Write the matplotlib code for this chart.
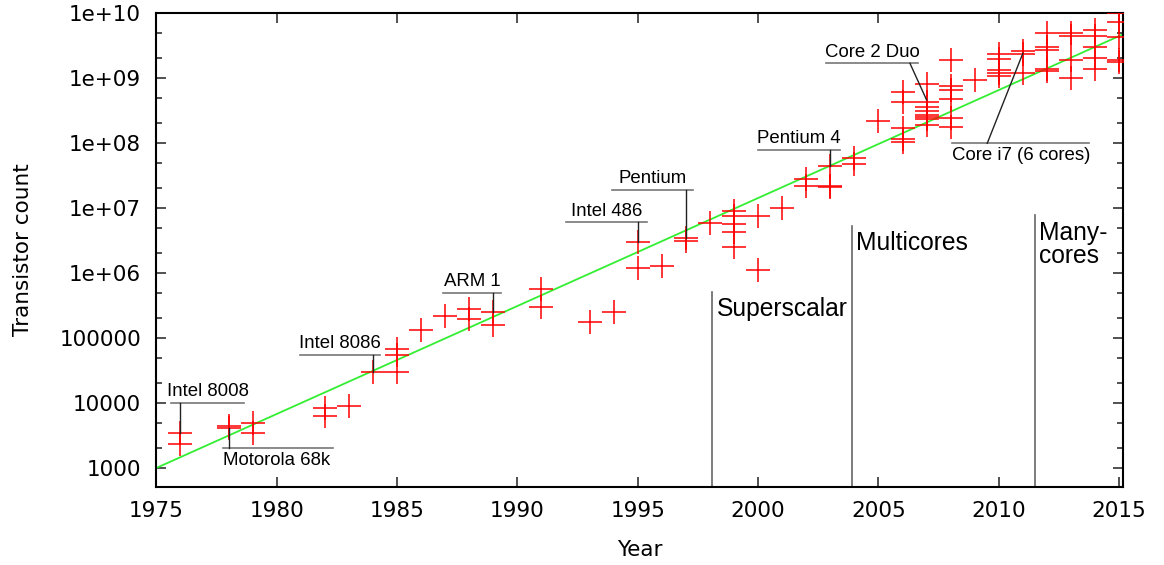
import matplotlib
matplotlib.use('Agg')
import matplotlib.pyplot as plt
from matplotlib.ticker import FixedLocator, FixedFormatter, NullFormatter

# transistor counts per processor
years = [1976, 1976, 1978, 1978, 1979, 1979, 1982, 1982, 1983, 1984,
         1985, 1985, 1985, 1986, 1987, 1988, 1988, 1989, 1989, 1991, 1991,
         1993, 1994, 1995, 1995, 1996, 1997, 1997, 1998,
         1999, 1999, 1999, 1999, 1999, 2000, 2000, 2001, 2002, 2002,
         2003, 2003, 2003, 2004, 2004, 2005,
         2006, 2006, 2006, 2006, 2006,
         2007, 2007, 2007, 2007, 2007, 2007, 2007, 2007,
         2008, 2008, 2008, 2008, 2008, 2008, 2009,
         2010, 2010, 2010, 2010, 2010, 2011, 2011, 2011,
         2012, 2012, 2012, 2012, 2012, 2013, 2013, 2013, 2013,
         2014, 2014, 2014, 2014, 2014, 2015, 2015, 2015, 2015, 2015]
counts = [3500, 2300, 4400, 4100, 5000, 3500, 8300, 6300, 9100, 30000,
          68000, 55000, 30000, 135000, 220000, 280000, 195000, 250000, 160000, 560000, 300000,
          178000, 250000, 3.0e6, 1.2e6, 1.3e6, 3.4e6, 3.1e6, 5.8e6,
          9.0e6, 7.5e6, 5.6e6, 4.3e6, 2.5e6, 7.5e6, 1.1e6, 9.9e6, 2.8e7, 2.2e7,
          4.4e7, 2.2e7, 2.1e7, 5.8e7, 4.8e7, 2.2e8,
          6.0e8, 4.2e8, 1.7e8, 1.15e8, 1.05e8,
          8.0e8, 4.2e8, 3.6e8, 3.1e8, 2.7e8, 2.5e8, 2.3e8, 1.9e8,
          1.9e9, 7.6e8, 6.5e8, 4.75e8, 2.4e8, 1.74e8, 9.3e8,
          2.35e9, 1.94e9, 1.33e9, 1.2e9, 1.08e9, 2.6e9, 2.35e9, 1.2e9,
          5.0e9, 3.0e9, 2.7e9, 1.4e9, 1.28e9, 5.0e9, 4.4e9, 1.9e9, 1.0e9,
          5.5e9, 4.4e9, 3.0e9, 2.0e9, 1.4e9, 1.0e10, 7.3e9, 4.2e9, 1.9e9, 1.78e9]

# Moore's law trend line end points
trend_years = [1975, 2015.16]
trend_counts = [1000, 4.7e9]

# labelled chips: name, (year, count) of chip, underline x range, underline y, text above/below
chip_names = ['Intel 8008', 'Motorola 68k', 'Intel 8086', 'ARM 1', 'Intel 486',
              'Pentium', 'Pentium 4', 'Core 2 Duo', 'Core i7 (6 cores)']
chip_points = [(1976, 3500), (1978, 4100), (1984, 30000), (1989, 250000), (1995, 3.0e6),
               (1997, 3.4e6), (2003, 4.4e7), (2007, 4.6e8), (2011, 2.4e9)]
label_spans = [(1975.61, 1978.65), (1977.78, 1982.35), (1980.97, 1984.29), (1986.91, 1989.31),
               (1992.01, 1995.37), (1993.93, 1997.3), (2000.0, 2003.4), (2002.82, 2006.64),
               (2008.06, 2013.75)]
label_heights = [1e4, 2050, 5.5e4, 4.9e5, 6.0e6, 1.9e7, 7.8e7, 1.68e9, 9.9e7]
label_below = [False, True, False, False, False, False, False, False, True]
leader_from = [1976, 1978, 1984, 1989, 1995, 1997, 2003, 2006.31, 2009.52]

# architecture eras
era_names = ['Superscalar', 'Multicores', 'Many-\ncores']
era_years = [1998.1, 2003.9, 2011.5]
era_tops = [5.1e5, 5.3e6, 7.8e6]
era_text_y = [2.75e5, 2.9e6, 2.75e6]

fig = plt.figure(figsize=(11.64, 5.65), dpi=100)
ax = fig.add_axes([156.3 / 1164, 1 - 487 / 565, (1123 - 156.3) / 1164, 474 / 565])

ax.plot(trend_years, trend_counts, color='#33ee33', lw=1.3, zorder=2)
ax.plot(years, counts, linestyle='none', marker='+', color='red',
        markersize=17, markeredgewidth=1.1, zorder=3)

ann_font = dict(family=['Liberation Sans', 'DejaVu Sans'], fontsize=13.4, color='black')
for name, (px, py), (x0, x1), hy, below, lx in zip(chip_names, chip_points, label_spans,
                                                    label_heights, label_below, leader_from):
    ax.plot([x0, x1], [hy, hy], color='#777777', lw=1.2, zorder=4)
    ax.plot([lx, px], [hy, py], color='#222222', lw=1.0, zorder=4)
    if below:
        ax.annotate(name, (x0, hy), xytext=(0, -3), textcoords='offset points',
                    ha='left', va='top', **ann_font)
    else:
        ax.annotate(name, ((x0 + x1) / 2, hy), xytext=(0, 2), textcoords='offset points',
                    ha='center', va='bottom', **ann_font)

for name, ex, top, ty in zip(era_names, era_years, era_tops, era_text_y):
    ax.plot([ex, ex], [1, top], color='#666666', lw=1.2, zorder=1)
    ax.annotate(name, (ex, ty), xytext=(3, 0), textcoords='offset points',
                ha='left', va='center', linespacing=0.98,
                family=['Liberation Sans', 'DejaVu Sans'], fontsize=17.7)

ax.set_yscale('log')
ax.set_xlim(1975, 2015.16)
ax.set_ylim(510, 1e10)

xt = list(range(1975, 2016, 5))
ax.set_xticks(xt)
ax.set_xticklabels([str(v) for v in xt])

ymaj = [10.0 ** k for k in range(3, 11)]
ylab = ['1000', '10000', '100000', '1e+06', '1e+07', '1e+08', '1e+09', '1e+10']
ax.yaxis.set_major_locator(FixedLocator(ymaj))
ax.yaxis.set_major_formatter(FixedFormatter(ylab))
ymin = [m * 10.0 ** k for k in range(2, 10) for m in (2, 5)]
ax.yaxis.set_minor_locator(FixedLocator(ymin))
ax.yaxis.set_minor_formatter(NullFormatter())

ax.tick_params(which='both', direction='in', top=True, right=True, width=1.2, color='#333333')
ax.tick_params(which='major', length=7)
ax.tick_params(which='minor', length=4)
ax.tick_params(axis='x', which='major', pad=10, labelsize=15.5)
ax.tick_params(axis='y', which='major', pad=11, labelsize=15.5)
for s in ax.spines.values():
    s.set_linewidth(1.5)

ax.set_xlabel('Year', fontsize=15.5, labelpad=14)
ax.set_ylabel('Transistor count', fontsize=15.5, labelpad=19)

fig.savefig('out.png', dpi=100)
